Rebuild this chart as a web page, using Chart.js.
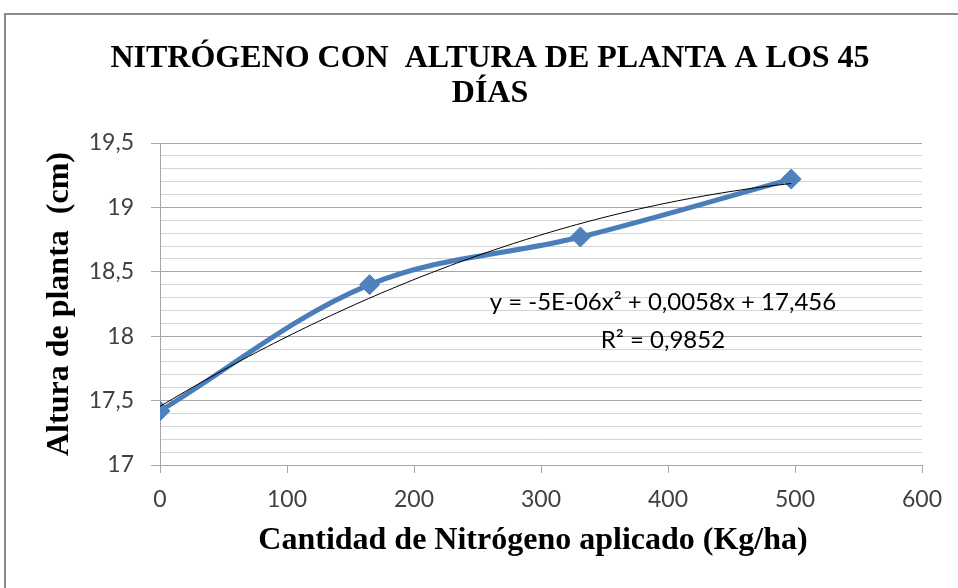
<!DOCTYPE html>
<html><head><meta charset="utf-8">
<script src="https://cdn.jsdelivr.net/npm/chart.js@4.4.1/dist/chart.umd.min.js"></script>
<style>
html,body{margin:0;padding:0;background:#fff;overflow:hidden}
#marco{position:absolute;left:4px;top:13px;width:1000px;height:1000px;border-left:2px solid #8a8a8a;border-top:2px solid #8a8a8a}
#caja{position:absolute;left:0;top:0;width:958px;height:588px}
</style></head><body>
<div id="marco"></div>
<div id="caja"><canvas id="graf" width="958" height="588"></canvas></div>
<script>
// datos
const dosis=[0,165,331,497];
const altura=[17.42,18.40,18.77,19.22];
const ticksX=[0,100,200,300,400,500,600];
const ticksYMayores=[17,17.5,18,18.5,19,19.5];
const titulo=["NITRÓGENO CON  ALTURA DE PLANTA A LOS 45","DÍAS"];
const ecuacion=["y = -5E-06x² + 0,0058x + 17,456","R² = 0,9852"];

const SERIF='"Liberation Serif","Times New Roman",serif';
const SANS='Lato,"Open Sans",sans-serif';

// ajuste polinomico de grado 2 (minimos cuadrados), como la linea de tendencia de Excel
function ajusteCuad(x,y){
  const s=[0,0,0,0,0],t=[0,0,0];
  x.forEach((xi,i)=>{for(let k=0;k<5;k++)s[k]+=Math.pow(xi,k);for(let k=0;k<3;k++)t[k]+=Math.pow(xi,k)*y[i];});
  const A=[[s[0],s[1],s[2],t[0]],[s[1],s[2],s[3],t[1]],[s[2],s[3],s[4],t[2]]];
  for(let i=0;i<3;i++)for(let j=i+1;j<3;j++){const f=A[j][i]/A[i][i];for(let k=i;k<4;k++)A[j][k]-=f*A[i][k];}
  const c=[0,0,0];
  for(let i=2;i>=0;i--){let v=A[i][3];for(let k=i+1;k<3;k++)v-=A[i][k]*c[k];c[i]=v/A[i][i];}
  return c;
}
const coef=ajusteCuad(dosis,altura);
const tendencia=[];
const xFin=dosis[dosis.length-1];
for(let i=0;i<=100;i++){const x=xFin*i/100;tendencia.push({x:x,y:coef[0]+coef[1]*x+coef[2]*x*x});}

const esMayor=v=>ticksYMayores.some(m=>Math.abs(m-v)<1e-6);
const coma=v=>String(v).replace(".",",");

const textoEcuacion={id:"textoEcuacion",afterDraw(ch){
  const c=ch.ctx,sx=ch.scales.x,sy=ch.scales.y;
  c.save();c.font="24px "+SANS;c.fillStyle="#000";c.textAlign="center";c.textBaseline="middle";
  c.fillText(ecuacion[0],sx.getPixelForValue(396),sy.getPixelForValue(18.26));
  c.fillText(ecuacion[1],sx.getPixelForValue(396),sy.getPixelForValue(17.97));
  c.restore();
}};

new Chart(document.getElementById("graf"),{
  type:"scatter",
  data:{datasets:[
    {data:tendencia,showLine:true,borderColor:"#000",borderWidth:1,pointRadius:0,tension:0},
    {data:dosis.map((x,i)=>({x:x,y:altura[i]})),showLine:true,borderColor:"#4A7EBB",borderWidth:5,tension:0.35,
     pointStyle:"rectRot",pointRadius:10,pointBackgroundColor:"#4F81BD",pointBorderColor:"#4F81BD",pointBorderWidth:1}
  ]},
  options:{
    responsive:false,animation:false,
    layout:{padding:{top:41,right:36,left:58,bottom:0}},
    plugins:{
      legend:{display:false},tooltip:{enabled:false},
      title:{display:true,text:titulo,color:"#000",font:{family:SERIF,size:32,weight:"bold",lineHeight:1.1},padding:{top:0,bottom:31.6}}
    },
    scales:{
      x:{type:"linear",min:0,max:600,
        afterBuildTicks:s=>{s.ticks=ticksX.map(v=>({value:v}));},
        afterFit:s=>{s.height=123;},
        ticks:{color:"#404040",font:{family:SANS,size:23},padding:13,autoSkip:false},
        grid:{drawOnChartArea:false,tickLength:8,color:"#a6a6a6"},
        border:{color:"#a6a6a6"},
        title:{display:true,text:"Cantidad de Nitrógeno aplicado (Kg/ha)  ",color:"#000",font:{family:SERIF,size:32,weight:"bold"},padding:{top:0,bottom:28}}
      },
      y:{min:17,max:19.5,
        afterBuildTicks:s=>{const t=[];for(let v=170;v<=195;v++)t.push({value:v/10});s.ticks=t;},
        afterFit:s=>{s.width=102;},
        ticks:{color:"#404040",font:{family:SANS,size:23},padding:17,autoSkip:false,callback:v=>esMayor(v)?coma(v):""},
        grid:{tickLength:9,color:c=>esMayor(c.tick.value)?"#a6a6a6":"#d4d4d4",tickColor:c=>esMayor(c.tick.value)?"#a6a6a6":"rgba(0,0,0,0)"},
        border:{color:"#a6a6a6"},
        title:{display:true,text:"Altura de planta  (cm)",color:"#000",font:{family:SERIF,size:32,weight:"bold"},padding:{top:-17,bottom:0}}
      }
    }
  },
  plugins:[textoEcuacion]
});
</script>
</body></html>
